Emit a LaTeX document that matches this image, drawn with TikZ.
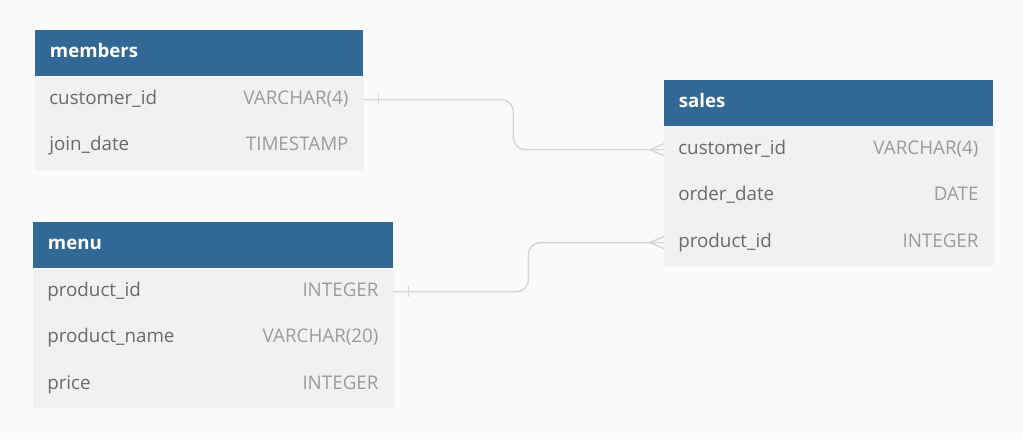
\documentclass[tikz,border=0pt]{standalone}
\usepackage{fontspec}
\setmainfont{Open Sans}
\usetikzlibrary{positioning,calc}

\definecolor{headblue}{HTML}{316896}
\definecolor{rowgray}{HTML}{F1F1F1}
\definecolor{bggray}{HTML}{FAFAFA}
\definecolor{namegray}{HTML}{6A6A6A}
\definecolor{typegray}{HTML}{9B9B9B}
\definecolor{linkgray}{HTML}{D6D6D6}

\tikzset{
    tblhead/.style={fill=headblue, text=white, anchor=north west, align=left,
        font=\bfseries\fontsize{14}{16}\selectfont, text width=#1,
        minimum height=34.5pt, inner xsep=11pt, inner ysep=0pt,
        text height=10pt, text depth=3pt},
    tblrow/.style={fill=rowgray, draw=rowgray, line width=0.3pt, text=namegray,
        align=left, font=\fontsize{14.1}{16}\selectfont, text width=#1,
        minimum height=34.5pt, inner xsep=10.5pt, inner ysep=0pt,
        text height=10pt, text depth=3pt},
    ftype/.style={text=typegray, anchor=base east, inner sep=0pt,
        font=\fontsize{14.1}{16}\selectfont},
    link/.style={draw=linkgray, line width=1.1pt, rounded corners=9pt}
}

\begin{document}
\begin{tikzpicture}[x=0.75pt, y=-0.75pt]
    \fill[bggray] (0,0) rectangle (1023,439);
    \useasboundingbox (0,0) rectangle (1023,439);

    % members
    \node[tblhead=224pt] (mem-h) at (35,30) {members};
    \node[tblrow=225pt, below=0pt of mem-h] (mem-r1) {customer\_id};
    \node[tblrow=225pt, below=0pt of mem-r1] (mem-r2) {join\_date};
    \node[ftype] (mem-t1) at ([xshift=-11pt]mem-r1.base east) {VARCHAR(4)};
    \node[ftype] (mem-t2) at ([xshift=-11pt]mem-r2.base east) {TIMESTAMP};

    % menu
    \node[tblhead=248pt] (men-h) at (33,222) {menu};
    \node[tblrow=249pt, below=0pt of men-h] (men-r1) {product\_id};
    \node[tblrow=249pt, below=0pt of men-r1] (men-r2) {product\_name};
    \node[tblrow=249pt, below=0pt of men-r2] (men-r3) {price};
    \node[ftype] (men-t1) at ([xshift=-11pt]men-r1.base east) {INTEGER};
    \node[ftype] (men-t2) at ([xshift=-11pt]men-r2.base east) {VARCHAR(20)};
    \node[ftype] (men-t3) at ([xshift=-11pt]men-r3.base east) {INTEGER};

    % sales
    \node[tblhead=224.75pt] (sal-h) at (664,80) {sales};
    \node[tblrow=225.75pt, below=0pt of sal-h] (sal-r1) {customer\_id};
    \node[tblrow=225.75pt, below=0pt of sal-r1] (sal-r2) {order\_date};
    \node[tblrow=225.75pt, below=0pt of sal-r2] (sal-r3) {product\_id};
    \node[ftype] (sal-t1) at ([xshift=-11pt]sal-r1.base east) {VARCHAR(4)};
    \node[ftype] (sal-t2) at ([xshift=-11pt]sal-r2.base east) {DATE};
    \node[ftype] (sal-t3) at ([xshift=-11pt]sal-r3.base east) {INTEGER};

    % links
    \draw[link] (mem-r1.east) -- ++(150,0) |- (sal-r1.west);
    \draw[link] (men-r1.east) -- ++(135,0) |- (sal-r3.west);

    % one ends
    \draw[link] ($(mem-r1.east)+(15,-5.5)$) -- ($(mem-r1.east)+(15,5.5)$);
    \draw[link] ($(men-r1.east)+(15,-5.5)$) -- ($(men-r1.east)+(15,5.5)$);

    % many ends
    \draw[link, rounded corners=0pt] ($(sal-r1.west)+(0,-6)$) -- ($(sal-r1.west)+(-14,0)$) -- ($(sal-r1.west)+(0,6)$);
    \draw[link, rounded corners=0pt] ($(sal-r3.west)+(0,-6)$) -- ($(sal-r3.west)+(-14,0)$) -- ($(sal-r3.west)+(0,6)$);
\end{tikzpicture}
\end{document}
